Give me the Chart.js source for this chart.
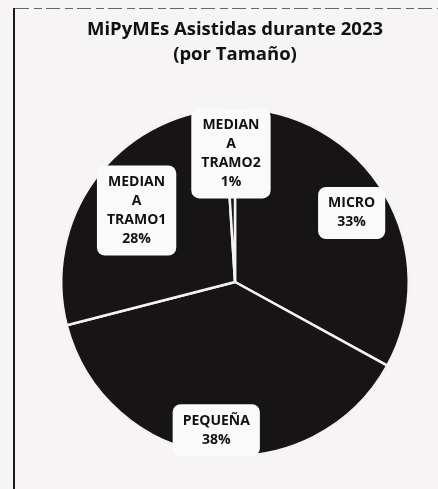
<!DOCTYPE html>
<html>
<head>
<meta charset="utf-8">
<script src="https://cdn.jsdelivr.net/npm/chart.js@4/dist/chart.umd.min.js"></script>
<style>
  html, body { margin: 0; padding: 0; background: #f6f4f4; }
  #wrap { width: 438px; height: 489px; position: relative; }
</style>
</head>
<body>
<div id="wrap"><canvas id="c" width="438" height="489"></canvas></div>
<script>
// ---- data ----
const categories = ["MICRO", "PEQUEÑA", "MEDIANA TRAMO1", "MEDIANA TRAMO2"];
const percentValues = [33, 38, 28, 1];
const labelLines = [
  ["MICRO", "33%"],
  ["PEQUEÑA", "38%"],
  ["MEDIAN", "A", "TRAMO1", "28%"],
  ["MEDIAN", "A", "TRAMO2", "1%"]
];
const titleLines = ["MiPyMEs Asistidas durante 2023", "(por Tamaño)"];

// ---- plugins ----
const framePlugin = {
  id: 'frame',
  beforeDraw(chart) {
    const ctx = chart.ctx;
    ctx.save();
    ctx.fillStyle = '#f6f4f4';
    ctx.fillRect(0, 0, chart.width, chart.height);
    ctx.strokeStyle = '#1a1a1a';
    ctx.lineWidth = 2;
    ctx.beginPath();
    ctx.moveTo(14, 8);
    ctx.lineTo(14, chart.height);
    ctx.stroke();
    ctx.strokeStyle = '#666';
    ctx.lineWidth = 1.2;
    ctx.setLineDash([14, 5, 8, 4]);
    ctx.beginPath();
    ctx.moveTo(15, 8.5);
    ctx.lineTo(chart.width, 8.5);
    ctx.stroke();
    ctx.restore();
  }
};

const calloutPlugin = {
  id: 'callouts',
  afterDatasetsDraw(chart, args, opts) {
    const ctx = chart.ctx;
    const meta = chart.getDatasetMeta(0);
    ctx.save();
    ctx.font = 'bold 14px "Open Sans", sans-serif';
    ctx.textAlign = 'center';
    ctx.textBaseline = 'middle';
    meta.data.forEach((arc, i) => {
      const p = arc.getProps(['x', 'y', 'startAngle', 'endAngle', 'outerRadius'], true);
      const mid = (p.startAngle + p.endAngle) / 2;
      const r = p.outerRadius * opts.radial[i];
      const cx = p.x + Math.cos(mid) * r;
      const cy = p.y + Math.sin(mid) * r;
      const lines = labelLines[i];
      const lh = opts.lineHeight;
      let w = 0;
      lines.forEach(t => { w = Math.max(w, ctx.measureText(t).width); });
      const bw = w + opts.padX * 2;
      const bh = lines.length * lh + opts.padY * 2;
      const x0 = cx - bw / 2, y0 = cy - bh / 2;
      ctx.fillStyle = '#fbfafa';
      ctx.beginPath();
      ctx.roundRect(x0, y0, bw, bh, 8);
      ctx.fill();
      ctx.fillStyle = '#111';
      lines.forEach((t, k) => {
        ctx.fillText(t, cx, y0 + opts.padY + lh * (k + 0.5));
      });
    });
    ctx.restore();
  }
};

new Chart(document.getElementById('c'), {
  type: 'pie',
  data: {
    labels: categories,
    datasets: [{
      data: percentValues,
      backgroundColor: '#161414',
      borderColor: '#f4f2f2',
      borderWidth: 2.5
    }]
  },
  options: {
    responsive: false,
    animation: false,
    layout: { padding: { left: 60, right: 28, top: 0, bottom: 32 } },
    plugins: {
      legend: { display: false },
      tooltip: { enabled: false },
      title: {
        display: true,
        text: titleLines,
        color: '#111',
        font: { family: '"Open Sans", sans-serif', size: 18.5, weight: 'bold', lineHeight: 1.35 },
        padding: { top: 17, bottom: 40 }
      },
      callouts: { radial: [0.78, 0.86, 0.70, 0.74], lineHeight: 19, padX: 10, padY: 7 }
    }
  },
  plugins: [framePlugin, calloutPlugin]
});
</script>
</body>
</html>
